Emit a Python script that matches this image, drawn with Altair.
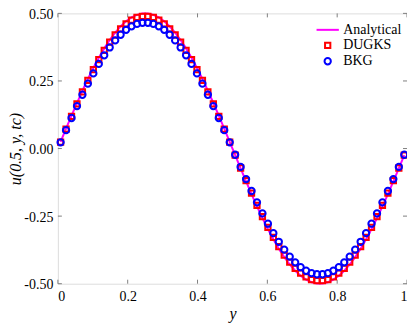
import altair as alt
import pandas as pd

# grid positions (64 cells, cell centres)
y_pos = [0.0078, 0.0234, 0.0391, 0.0547, 0.0703, 0.0859, 0.1016, 0.1172,
         0.1328, 0.1484, 0.1641, 0.1797, 0.1953, 0.2109, 0.2266, 0.2422,
         0.2578, 0.2734, 0.2891, 0.3047, 0.3203, 0.3359, 0.3516, 0.3672,
         0.3828, 0.3984, 0.4141, 0.4297, 0.4453, 0.4609, 0.4766, 0.4922,
         0.5078, 0.5234, 0.5391, 0.5547, 0.5703, 0.5859, 0.6016, 0.6172,
         0.6328, 0.6484, 0.6641, 0.6797, 0.6953, 0.7109, 0.7266, 0.7422,
         0.7578, 0.7734, 0.7891, 0.8047, 0.8203, 0.8359, 0.8516, 0.8672,
         0.8828, 0.8984, 0.9141, 0.9297, 0.9453, 0.9609, 0.9766, 0.9922]

analytical = [0.0245, 0.0734, 0.1215, 0.1684, 0.2138, 0.2571, 0.2979, 0.3358,
              0.3705, 0.4016, 0.4289, 0.4520, 0.4708, 0.4850, 0.4946, 0.4994,
              0.4994, 0.4946, 0.4850, 0.4708, 0.4520, 0.4289, 0.4016, 0.3705,
              0.3358, 0.2979, 0.2571, 0.2138, 0.1684, 0.1215, 0.0734, 0.0245,
              -0.0245, -0.0734, -0.1215, -0.1684, -0.2138, -0.2571, -0.2979, -0.3358,
              -0.3705, -0.4016, -0.4289, -0.4520, -0.4708, -0.4850, -0.4946, -0.4994,
              -0.4994, -0.4946, -0.4850, -0.4708, -0.4520, -0.4289, -0.4016, -0.3705,
              -0.3358, -0.2979, -0.2571, -0.2138, -0.1684, -0.1215, -0.0734, -0.0245]

dugks = [0.024, 0.072, 0.119, 0.165, 0.210, 0.252, 0.292, 0.329,
         0.363, 0.394, 0.420, 0.443, 0.461, 0.475, 0.485, 0.489,
         0.489, 0.485, 0.475, 0.461, 0.443, 0.420, 0.394, 0.363,
         0.329, 0.292, 0.252, 0.210, 0.165, 0.119, 0.072, 0.024,
         -0.024, -0.072, -0.119, -0.165, -0.210, -0.252, -0.292, -0.329,
         -0.363, -0.394, -0.420, -0.443, -0.461, -0.475, -0.485, -0.489,
         -0.489, -0.485, -0.475, -0.461, -0.443, -0.420, -0.394, -0.363,
         -0.329, -0.292, -0.252, -0.210, -0.165, -0.119, -0.072, -0.024]

bkg = [0.023, 0.068, 0.113, 0.157, 0.199, 0.240, 0.278, 0.313,
       0.345, 0.374, 0.400, 0.421, 0.439, 0.452, 0.461, 0.465,
       0.465, 0.461, 0.452, 0.439, 0.421, 0.400, 0.374, 0.345,
       0.313, 0.278, 0.240, 0.199, 0.157, 0.113, 0.068, 0.023,
       -0.023, -0.068, -0.113, -0.157, -0.199, -0.240, -0.278, -0.313,
       -0.345, -0.374, -0.400, -0.421, -0.439, -0.452, -0.461, -0.465,
       -0.465, -0.461, -0.452, -0.439, -0.421, -0.400, -0.374, -0.345,
       -0.313, -0.278, -0.240, -0.199, -0.157, -0.113, -0.068, -0.023]

series_names = ["Analytical", "DUGKS", "BKG"]
colors = ["#ff00ff", "#ff0000", "#0000ff"]
x_ticks = [0.0, 0.2, 0.4, 0.6, 0.8, 1.0]
y_ticks = [-0.5, -0.25, 0.0, 0.25, 0.5]

W, H = 350, 271
FONT = "Liberation Serif"

line_df = pd.DataFrame({"y": y_pos, "u": analytical, "series": "Analytical"})
pts_df = pd.concat([
    pd.DataFrame({"y": y_pos, "u": dugks, "series": "DUGKS"}),
    pd.DataFrame({"y": y_pos, "u": bkg, "series": "BKG"}),
])

xs = alt.Scale(domain=[0, 1], nice=False)
ys = alt.Scale(domain=[-0.5, 0.5], nice=False)

color = alt.Color("series:N", scale=alt.Scale(domain=series_names, range=colors),
                  legend=alt.Legend(title=None, orient="none", legendX=258, legendY=4,
                                    labelFont=FONT, labelFontSize=14, labelColor="black",
                                    symbolStrokeWidth=2, rowPadding=1, labelOffset=3,
                                    symbolFillColor="transparent"))
shape = alt.Shape("series:N", scale=alt.Scale(domain=series_names,
                                              range=["stroke", "square", "circle"]),
                  legend=alt.Legend(title=None))
size = alt.Size("series:N", scale=alt.Scale(type="ordinal", domain=series_names,
                                            range=[500, 28, 40]),
                legend=alt.Legend(title=None))

x_enc = alt.X("y:Q", scale=xs, axis=alt.Axis(
    title="y", values=x_ticks, labelExpr="datum.value == 0 ? '0' : datum.value == 1 ? '1' : format(datum.value, '.1f')",
    ticks=False, domain=False, grid=False, labelFont=FONT, labelFontSize=14,
    labelColor="black", labelPadding=6, titleFont=FONT, titleFontStyle="italic",
    titleFontWeight="normal", titleFontSize=16, titleColor="black", titlePadding=2))
y_enc = alt.Y("u:Q", scale=ys, axis=alt.Axis(
    title="u(0.5, y, tc)", values=y_ticks,
    labelExpr="datum.value < 0 ? '-' + format(-datum.value, '.2f') : format(datum.value, '.2f')",
    ticks=False, domain=False, grid=False, labelFont=FONT, labelFontSize=14,
    labelColor="black", labelPadding=5, labelOffset=1, titleFont=FONT, titleFontStyle="italic",
    titleFontWeight="normal", titleFontSize=16, titleColor="black",
    titleX=-42, titleY=H / 2, titleAngle=-90, titleAlign="center", titleBaseline="middle"))

line = alt.Chart(line_df).mark_line(strokeWidth=2).encode(x=x_enc, y=y_enc, color=color)
pts = alt.Chart(pts_df).mark_point(filled=False, strokeWidth=2, opacity=1).encode(
    x=alt.X("y:Q", scale=xs), y=alt.Y("u:Q", scale=ys), color=color, shape=shape, size=size)

TICK_COLOR = "#808080"
xt_df = pd.DataFrame({"t": x_ticks})
yt_df = pd.DataFrame({"t": y_ticks})
bottom_ticks = alt.Chart(xt_df).mark_rule(color=TICK_COLOR).encode(
    x=alt.X("t:Q", scale=xs), y=alt.value(H), y2=alt.value(H - 4))
top_ticks = alt.Chart(xt_df).mark_rule(color=TICK_COLOR).encode(
    x=alt.X("t:Q", scale=xs), y=alt.value(0), y2=alt.value(4))
left_ticks = alt.Chart(yt_df).mark_rule(color=TICK_COLOR).encode(
    y=alt.Y("t:Q", scale=ys), x=alt.value(0), x2=alt.value(4))
right_ticks = alt.Chart(yt_df).mark_rule(color=TICK_COLOR).encode(
    y=alt.Y("t:Q", scale=ys), x=alt.value(W), x2=alt.value(W - 4))

chart = alt.layer(bottom_ticks, top_ticks, left_ticks, right_ticks, line, pts).properties(
    width=W, height=H,
    autosize=alt.AutoSizeParams(type="none"),
    padding={"left": 50, "top": 5, "right": 0, "bottom": 40},
).configure_view(stroke=TICK_COLOR, strokeWidth=1).configure(background="white")

chart.save("out.html", embed_options={"renderer": "svg", "actions": False})
